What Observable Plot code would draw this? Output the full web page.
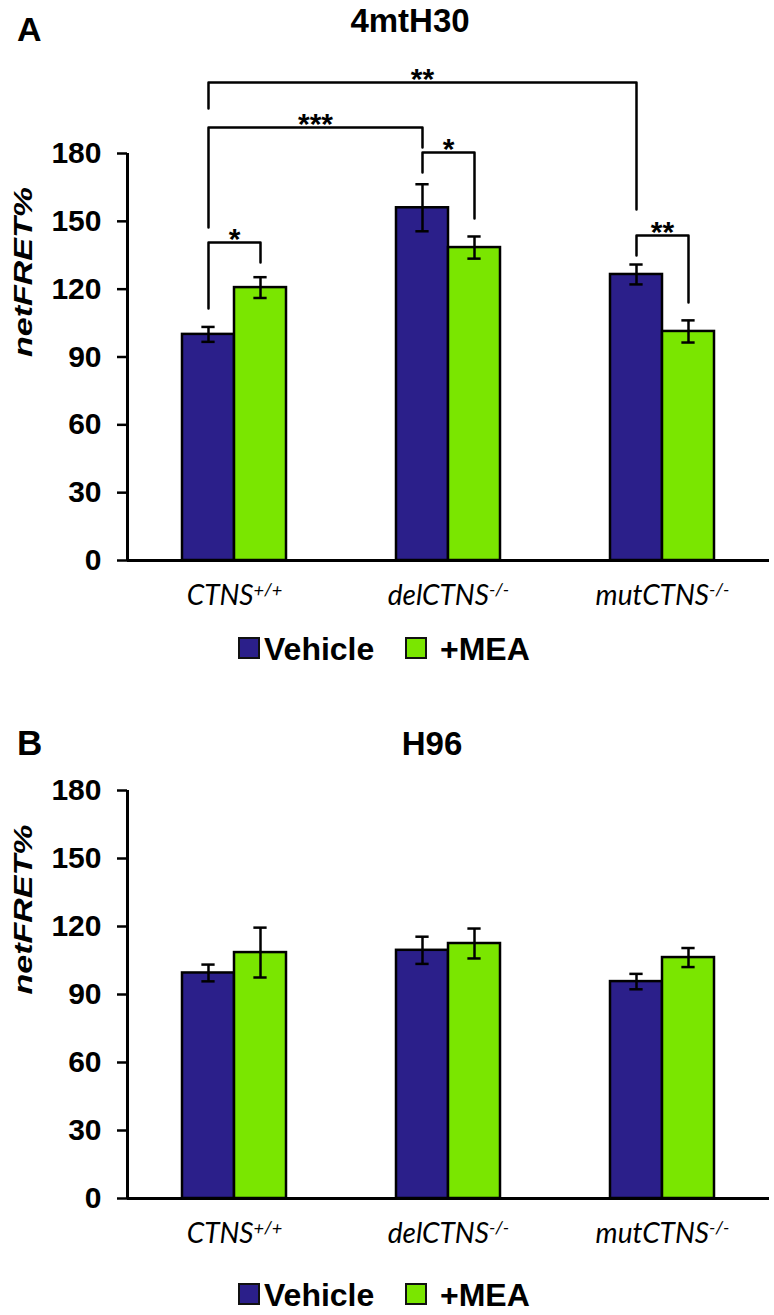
<!DOCTYPE html>
<html><head><meta charset="utf-8">
<script src="https://cdn.jsdelivr.net/npm/d3@7"></script>
<script src="https://cdn.jsdelivr.net/npm/@observablehq/plot@0.6"></script>
<style>
body{margin:0;background:#fff;}
#wrap{position:relative;width:774px;height:1315px;overflow:hidden;font-family:"Liberation Sans",Arial,sans-serif;background:#fff;}
.abs{position:absolute;line-height:1;font-weight:bold;white-space:nowrap;color:#000;}
.sq{position:absolute;width:18px;height:18px;border:2px solid #111;}
</style></head><body><div id="wrap"></div>
<script>
// ---------- data ----------
const groupNames = ["CTNS", "delCTNS", "mutCTNS"];
const groupSup = ["+/+", "-/-", "-/-"];
const treatments = ["Vehicle", "+MEA"];
const treatColors = ["#2b1f8a", "#7ae600"];
const yTicks = [0, 30, 60, 90, 120, 150, 180];
const yLabel = "netFRET%";

const aTitle = "4mtH30";
const aVehicle = [100, 156, 126.5];
const aVehicleErr = [3.3, 10.4, 4.4];
const aMea = [120.7, 138.4, 101.3];
const aMeaErr = [4.6, 4.9, 4.9];

// significance brackets (panel A)
const sigLabels = ["**", "***", "*", "*", "**"];
const sigFromGroup = [0, 0, 0, 1, 2];
const sigFromTreat = [0, 0, 0, 0, 0];
const sigToGroup = [2, 1, 0, 1, 2];
const sigToTreat = [0, 0, 1, 1, 1];
const sigLevel = [211.4, 191.5, 140.6, 180.4, 143.7];
const sigLeftEnd = [199.9, 147.3, 111.5, 171.6, 134.9];
const sigRightEnd = [155.2, 182.7, 131.8, 151.3, 114.1];

const bTitle = "H96";
const bVehicle = [99.5, 109.5, 95.7];
const bVehicleErr = [3.7, 6.0, 3.4];
const bMea = [108.5, 112.5, 106.3];
const bMeaErr = [11, 6.6, 4.2];

// ---------- helpers ----------
const barW = 0.243;   // bar width as fraction of a group step
const capHalf = 0.031;
const xc = (g, t) => g + 0.5 + (t === 0 ? -barW / 2 : barW / 2);

function rowsFor(veh, vehErr, mea, meaErr) {
  const rows = [];
  groupNames.forEach((name, g) => {
    [[veh, vehErr], [mea, meaErr]].forEach(([v, e], t) => {
      rows.push({g, t, treat: treatments[t], x1: g + 0.5 + (t - 1) * barW, x2: g + 0.5 + t * barW,
        xc: xc(g, t), value: v[g], lo: v[g] - e[g], hi: v[g] + e[g]});
    });
  });
  return rows;
}

function makeChart(rows, opts) {
  const caps = rows.flatMap(d => [{xc: d.xc, y: d.lo}, {xc: d.xc, y: d.hi}]);
  const marks = [
    Plot.rectY(rows, {x1: "x1", x2: "x2", y1: 0, y2: "value", fill: "treat", stroke: "#000", strokeWidth: 2.5}),
    Plot.ruleX(rows, {x: "xc", y1: "lo", y2: "hi", stroke: "#000", strokeWidth: 2.5}),
    Plot.ruleY(caps, {y: "y", x1: d => d.xc - capHalf, x2: d => d.xc + capHalf, stroke: "#000", strokeWidth: 2.5}),
    Plot.ruleX([0], {y1: 0, y2: 180, stroke: "#000", strokeWidth: 3}),
    Plot.ruleY([0], {x1: 0, x2: 3, stroke: "#000", strokeWidth: 3}),
    Plot.axisY({ticks: yTicks, tickSize: 10, tickPadding: 16, fontSize: 30, fontWeight: "bold", label: null, strokeWidth: 2.5}),
    Plot.axisX({ticks: [0.5, 1.5, 2.5], tickSize: 0, tickPadding: 25, tickFormat: d => groupNames[Math.floor(d)],
      fontFamily: "Lato", fontStyle: "italic", fontWeight: "normal", fontSize: 28, label: null}),
    Plot.text([yLabel], {text: d => d, frameAnchor: "left", rotate: -90, dx: -104, fontSize: 26,
      fontWeight: "bold", fontStyle: "italic"})
  ];
  if (opts.sig) {
    const pts = [], stars = [];
    sigLabels.forEach((lab, i) => {
      const xl = xc(sigFromGroup[i], sigFromTreat[i]);
      const xr = xc(sigToGroup[i], sigToTreat[i]);
      pts.push({id: i, x: xl, y: sigLeftEnd[i]}, {id: i, x: xl, y: sigLevel[i]},
               {id: i, x: xr, y: sigLevel[i]}, {id: i, x: xr, y: sigRightEnd[i]});
      stars.push({x: (xl + xr) / 2, y: sigLevel[i], label: lab});
    });
    marks.push(Plot.line(pts, {x: "x", y: "y", z: "id", stroke: "#000", strokeWidth: 2.5}));
    marks.push(Plot.text(stars, {x: "x", y: "y", text: "label", fontSize: 30, fontWeight: "bold", dy: -3}));
  }
  const svg = Plot.plot({
    width: 774, height: opts.height,
    marginTop: opts.marginTop, marginBottom: opts.marginBottom, marginLeft: 127, marginRight: 5,
    x: {domain: [0, 3]},
    y: {domain: [0, 180]},
    color: {domain: treatments, range: treatColors},
    style: {fontFamily: "'Liberation Sans', Arial, sans-serif", background: "transparent", overflow: "visible", color: "#000"},
    marks
  });
  d3.select(svg).selectAll("text").each(function () {
    const t = this.textContent;
    const i = groupNames.indexOf(t);
    if (i >= 0) {
      this.textContent = "";
      d3.select(this).append("tspan").text(groupNames[i]);
      d3.select(this).append("tspan").attr("dy", "-0.5em").attr("font-size", "0.65em").text(groupSup[i]);
    } else if (t === yLabel) {
      this.setAttribute("textLength", 170);
      this.setAttribute("lengthAdjust", "spacingAndGlyphs");
    }
  });
  svg.style.position = "absolute";
  svg.style.left = "0px";
  svg.style.top = opts.top + "px";
  return svg;
}

const wrap = document.getElementById("wrap");
function addText(txt, left, top, size, center) {
  const d = document.createElement("div");
  d.className = "abs";
  d.style.fontSize = size + "px";
  d.style.top = top + "px";
  if (center) { d.style.left = (left - 150) + "px"; d.style.width = "300px"; d.style.textAlign = "center"; }
  else d.style.left = left + "px";
  d.textContent = txt;
  wrap.appendChild(d);
}
function addLegend(top) {
  const sq1 = document.createElement("div"); sq1.className = "sq";
  sq1.style.left = "238px"; sq1.style.top = (top + 4) + "px"; sq1.style.background = treatColors[0];
  const sq2 = document.createElement("div"); sq2.className = "sq";
  sq2.style.left = "405px"; sq2.style.top = (top + 4) + "px"; sq2.style.background = treatColors[1];
  wrap.appendChild(sq1); wrap.appendChild(sq2);
  addText(treatments[0], 264, top, 32, false);
  addText(treatments[1], 440, top, 32, false);
}

// Panel A
addText("A", 17, 12, 34, false);
addText(aTitle, 410, 4, 33, true);
wrap.appendChild(makeChart(rowsFor(aVehicle, aVehicleErr, aMea, aMeaErr),
  {top: 40, height: 580, marginTop: 113, marginBottom: 60, sig: true}));
addLegend(633);

// Panel B
addText("B", 17, 725, 35, false);
addText(bTitle, 432, 727, 33, true);
wrap.appendChild(makeChart(rowsFor(bVehicle, bVehicleErr, bMea, bMeaErr),
  {top: 770, height: 490, marginTop: 20, marginBottom: 62, sig: false}));
addLegend(1279);
</script></body></html>
